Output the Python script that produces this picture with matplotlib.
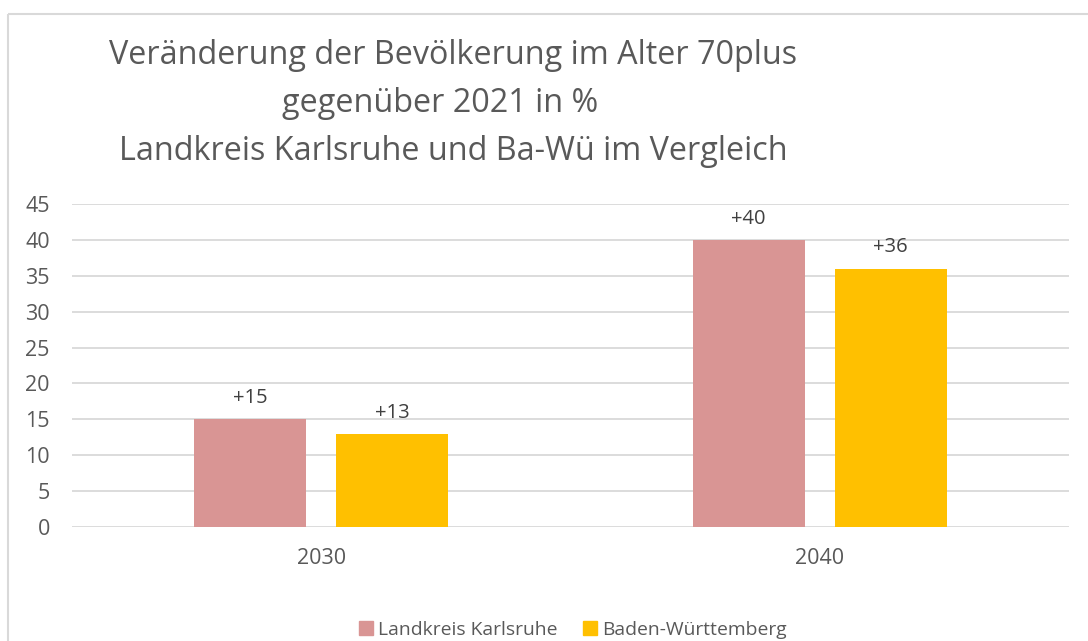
import matplotlib
matplotlib.use("Agg")
import matplotlib.pyplot as plt
from matplotlib.patches import Rectangle
import numpy as np

categories = ["2030", "2040"]
series_names = ["Landkreis Karlsruhe", "Baden-Württemberg"]
lk_values = [15, 40]
bw_values = [13, 36]
lk_labels = ["+15", "+40"]
bw_labels = ["+13", "+36"]
yticks = [0, 5, 10, 15, 20, 25, 30, 35, 40, 45]
title_lines = ["Veränderung der Bevölkerung im Alter 70plus",
               "gegenüber 2021 in %",
               "Landkreis Karlsruhe und Ba-Wü im Vergleich"]

plt.rcParams['font.family'] = ['Open Sans', 'DejaVu Sans']
TXT = "#595959"
W, H = 1088, 641
fig = plt.figure(figsize=(W/100, H/100), dpi=100)

# outer border (chart frame, partially cropped)
fig.patches.append(Rectangle((8/W, 1 - 14/H), 1.2, -1.2, transform=fig.transFigure,
                             fill=False, edgecolor="#D9D9D9", linewidth=1.5))

ax_l, ax_r, ax_t, ax_b = 72, 1069, 204, 527
ax = fig.add_axes([ax_l/W, 1 - ax_b/H, (ax_r-ax_l)/W, (ax_b-ax_t)/H])

x = np.arange(len(categories))
bw = 0.225
off = 0.1425
b1 = ax.bar(x - off, lk_values, bw, color="#D99594", zorder=3)
b2 = ax.bar(x + off, bw_values, bw, color="#FFC000", zorder=3)

for bars, labs in ((b1, lk_labels), (b2, bw_labels)):
    for r, lab in zip(bars, labs):
        ax.annotate(lab, (r.get_x() + r.get_width()/2, r.get_height()),
                    xytext=(0, 8), textcoords="offset points", ha="center", va="bottom",
                    fontsize=14.5, color="#404040")

ax.set_xlim(-0.5, 1.5)
ax.set_ylim(0, 45)
ax.set_yticks(yticks)
ax.set_xticks(x)
ax.set_xticklabels(categories)
ax.grid(axis="y", color="#D9D9D9", linewidth=1.3, zorder=0)
for s in ax.spines.values():
    s.set_visible(False)
ax.tick_params(axis="both", length=0, labelsize=15.5, colors=TXT)
ax.tick_params(axis="y", pad=16)
ax.tick_params(axis="x", pad=15)

# title lines
fig.text(453/W, 1 - 56/H, title_lines[0], ha="center", va="center", fontsize=23.3, color=TXT)
fig.text(440/W, 1 - 103/H, title_lines[1], ha="center", va="center", fontsize=23.3, color=TXT)
fig.text(453/W, 1 - 151/H, title_lines[2], ha="center", va="center", fontsize=23.3, color=TXT)

handles = [Rectangle((0, 0), 1, 1, color="#D99594"), Rectangle((0, 0), 1, 1, color="#FFC000")]
leg = fig.legend(handles, series_names, loc="center", bbox_to_anchor=(573/W, 1 - 630/H),
                 ncol=2, frameon=False, fontsize=13.9, handlelength=0.7, handleheight=0.7,
                 handletextpad=0.3, columnspacing=1.3, borderaxespad=0)
for t in leg.get_texts():
    t.set_color(TXT)

fig.savefig("out.png", dpi=100)
